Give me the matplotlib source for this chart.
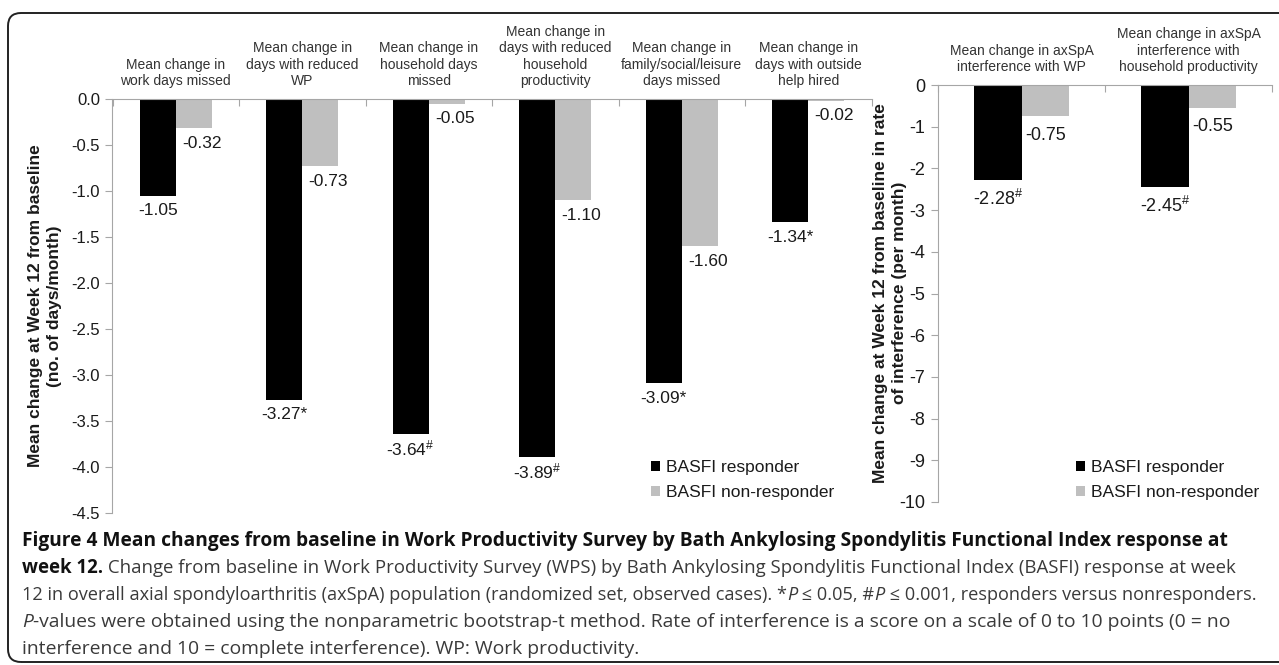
import matplotlib
matplotlib.use("Agg")
import numpy as np
import matplotlib.pyplot as plt
from matplotlib.patches import Patch, FancyBboxPatch
from matplotlib.text import Annotation

# data
left_categories = [
    "Mean change in\nwork days missed",
    "Mean change in\ndays with reduced\nWP",
    "Mean change in\nhousehold days\nmissed",
    "Mean change in\ndays with reduced\nhousehold\nproductivity",
    "Mean change in\nfamily/social/leisure\ndays missed",
    "Mean change in\ndays with outside\nhelp hired",
]
left_responder = [-1.05, -3.27, -3.64, -3.89, -3.09, -1.34]
left_nonresponder = [-0.32, -0.73, -0.05, -1.10, -1.60, -0.02]
left_marks = ["", "*", "#", "#", "*", "*"]

right_categories = [
    "Mean change in axSpA\ninterference with WP",
    "Mean change in axSpA\ninterference with\nhousehold productivity",
]
right_responder = [-2.28, -2.45]
right_nonresponder = [-0.75, -0.55]
right_marks = ["#", "#"]

series_names = ["BASFI responder", "BASFI non-responder"]
left_yticks = np.arange(-4.5, 0.01, 0.5)
right_yticks = np.arange(-10, 1, 1)

W, H = 1279, 665
BLACK = "#000000"
GREY = "#bfbfbf"
AXIS = "#a6a6a6"
TXT = "#1a1a1a"

plt.rcParams["font.family"] = ["Liberation Sans", "DejaVu Sans"]
plt.rcParams["mathtext.fontset"] = "custom"
plt.rcParams["mathtext.rm"] = "Liberation Sans"
plt.rcParams["mathtext.it"] = "Liberation Sans:italic"
plt.rcParams["mathtext.bf"] = "Liberation Sans:bold"

fig = plt.figure(figsize=(W / 100, H / 100), dpi=100)


def px_axes(x0, x1, ytop, ybot):
    return fig.add_axes([x0 / W, 1 - ybot / H, (x1 - x0) / W, (ybot - ytop) / H])


def fmt(v, mark):
    s = f"{v:.2f}"
    if mark == "#":
        s += r"$^{\#}$"
    elif mark:
        s += mark
    return s


def draw_panel(ax, cats, resp, nonresp, marks, yticks, ylim, tickfmt,
               fs_tick, fs_val, val_off, grey_dx):
    n = len(cats)
    x = np.arange(n)
    w = 0.285
    ax.bar(x - w / 2, resp, w, color=BLACK, zorder=2)
    ax.bar(x + w / 2, nonresp, w, color=GREY, zorder=2)
    ax.set_xlim(-0.5, n - 0.5)
    ax.set_ylim(*ylim)

    for i in range(n):
        ax.annotate(fmt(resp[i], marks[i]), xy=(x[i] - w / 2, resp[i]),
                    xytext=(0, -val_off), textcoords="offset pixels",
                    ha="center", va="center", fontsize=fs_val, color=TXT)
        ax.annotate(fmt(nonresp[i], ""), xy=(x[i] + w / 2, nonresp[i]),
                    xytext=(grey_dx, -val_off), textcoords="offset pixels",
                    ha="center", va="center", fontsize=fs_val, color=TXT)

    for s in ["bottom", "right"]:
        ax.spines[s].set_visible(False)
    ax.spines["top"].set_color(AXIS)
    ax.spines["left"].set_color(AXIS)

    ax.xaxis.tick_top()
    ax.set_xticks(np.arange(-0.5, n, 1.0))
    ax.set_xticklabels([])
    ax.tick_params(axis="x", which="major", direction="in", length=5,
                   color=AXIS, top=True, bottom=False)
    ax.set_xticks(x, cats, minor=True)
    ax.tick_params(axis="x", which="minor", length=0, top=True, bottom=False,
                   labeltop=True, labelbottom=False, pad=8,
                   labelsize=10, labelcolor="#333333")
    for lab in ax.get_xticklabels(minor=True):
        lab.set_multialignment("center")

    ax.set_yticks(yticks)
    ax.set_yticklabels([tickfmt(t) for t in yticks])
    ax.tick_params(axis="y", direction="out", length=5, color=AXIS,
                   labelsize=fs_tick, labelcolor=TXT, pad=4)


ax1 = px_axes(112.5, 871.5, 99, 513)
draw_panel(ax1, left_categories, left_responder, left_nonresponder, left_marks,
           left_yticks, (-4.5, 0), lambda t: f"{t:.1f}", 12, 12.5, 15, 8)

ax2 = px_axes(938, 1272, 85, 502)
draw_panel(ax2, right_categories, right_responder, right_nonresponder, right_marks,
           right_yticks, (-10, 0), lambda t: f"{t:.0f}", 13, 13, 19, 0)

# y axis titles
fig.text(45 / W, 1 - 306 / H,
         "Mean change at Week 12 from baseline\n(no. of days/month)",
         rotation=90, ha="center", va="center", fontsize=12.5,
         fontweight="bold", linespacing=1.35, color=TXT)
fig.text(890 / W, 1 - 293 / H,
         "Mean change at Week 12 from baseline in rate\nof interference (per month)",
         rotation=90, ha="center", va="center", fontsize=12.5,
         fontweight="bold", linespacing=1.35, color=TXT)

# legends
handles = [Patch(facecolor=BLACK), Patch(facecolor=GREY)]
for lx in (651, 1076):
    fig.legend(handles, series_names, loc="center left",
               bbox_to_anchor=(lx / W, 1 - 480 / H), frameon=False,
               fontsize=12.5, handlelength=0.5, handleheight=0.5,
               handletextpad=0.35, labelspacing=0.55, borderpad=0,
               borderaxespad=0, labelcolor=TXT)

# caption, one line at a time so the line breaks match the original
cap_font = ["Open Sans", "DejaVu Sans"]
CAP_X = 22


def caption_line(y_px, segments):
    texts = []
    for text, bold, italic in segments:
        kw = dict(fontsize=13.5, family=cap_font, va="center", ha="left",
                  fontweight="bold" if bold else "normal",
                  fontstyle="italic" if italic else "normal",
                  color="#111111" if bold else "#3a3a3a")
        if not texts:
            texts.append(fig.text(CAP_X / W, 1 - y_px / H, text, **kw))
        else:
            texts.append(fig.add_artist(
                Annotation(text, xy=(1, 0.5), xycoords=texts[-1], **kw)))
    return texts


lines = [
    caption_line(541, [("Figure 4 Mean changes from baseline in Work Productivity Survey by "
                        "Bath Ankylosing Spondylitis Functional Index response at", True, False)]),
    caption_line(568, [("week 12.", True, False),
                       (" Change from baseline in Work Productivity Survey (WPS) by Bath "
                        "Ankylosing Spondylitis Functional Index (BASFI) response at week",
                        False, False)]),
    caption_line(595, [("12 in overall axial spondyloarthritis (axSpA) population "
                        "(randomized set, observed cases). *", False, False),
                       ("P", False, True), (" \u2264 0.05, #", False, False),
                       ("P", False, True),
                       (" \u2264 0.001, responders versus nonresponders.", False, False)]),
    caption_line(622, [("P", False, True),
                       ("-values were obtained using the nonparametric bootstrap-t method. "
                        "Rate of interference is a score on a scale of 0 to 10 points (0 = no",
                        False, False)]),
]
last_line = caption_line(649, [("interference and 10 = complete interference). "
                                "WP: Work productivity.", False, False)])

# right ends of the caption lines in the original (pixels)
line_ends = [1223, 1235, 1258, 1228]
for texts, end in zip(lines, line_ends):
    fig.canvas.draw()
    r = fig.canvas.get_renderer()
    x0 = texts[0].get_window_extent(r).x0
    x1 = texts[-1].get_window_extent(r).x1
    k = (end - CAP_X) / (x1 - x0)
    for t in texts:
        t.set_fontsize(t.get_fontsize() * k)
for t in last_line:
    t.set_fontsize(lines[3][-1].get_fontsize())

# rounded frame around the whole figure
frame = FancyBboxPatch((0.08, 0.03), 12.9, 6.49,
                       boxstyle="round,pad=0,rounding_size=0.13",
                       transform=fig.dpi_scale_trans, facecolor="none",
                       edgecolor="#222222", linewidth=1.4, clip_on=False)
fig.add_artist(frame)

fig.savefig("out.png", dpi=100)
